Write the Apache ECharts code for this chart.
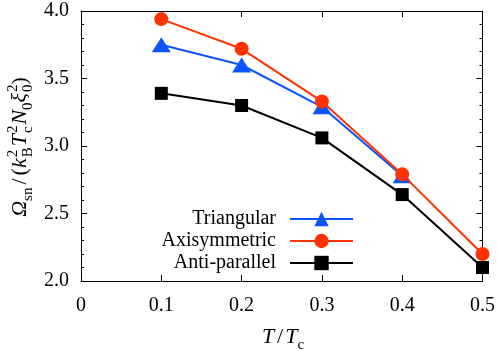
<!DOCTYPE html>
<html>
<head>
<meta charset="utf-8">
<script src="https://cdn.jsdelivr.net/npm/echarts@6/dist/echarts.min.js"></script>
<style>
html,body{margin:0;padding:0;background:#fff;}
#chart{width:498px;height:351px;}
</style>
</head>
<body>
<div id="chart"></div>
<script>
// ---- data ----
const tValues = [0.1, 0.2, 0.3, 0.4, 0.5];
const triangular = [3.75, 3.60, 3.29, 2.78];
const axisymmetric = [3.94, 3.72, 3.33, 2.79, 2.20];
const antiParallel = [3.39, 3.30, 3.06, 2.64, 2.10];
const seriesNames = ['Triangular', 'Axisymmetric', 'Anti-parallel'];
const xTickLabels = ['0', '0.1', '0.2', '0.3', '0.4', '0.5'];
const yTickLabels = ['2.0', '2.5', '3.0', '3.5', '4.0'];

const FONT = 'Liberation Serif';
const chart = echarts.init(document.getElementById('chart'), null, {renderer: 'canvas'});

const mctx = document.createElement('canvas').getContext('2d');
function fontStr(p) { return (p.italic ? 'italic ' : '') + p.size + 'px "' + FONT + '"'; }
function tw(p) { mctx.font = fontStr(p); return mctx.measureText(p.t).width; }
function textEl(p, x) {
  return {
    type: 'text', x: x, y: (p.dy || 0) - 0.34 * p.size,
    style: {text: p.t, font: fontStr(p), fill: '#000', align: 'left', verticalAlign: 'middle'}
  };
}
function mathLayout(pieces) {
  let x = 0; const items = [];
  for (const p of pieces) {
    if (p.gap) { x += p.gap; continue; }
    if (p.stack) {
      let wm = 0;
      for (const q of p.stack) { items.push([q, x]); wm = Math.max(wm, tw(q)); }
      x += wm + (p.after || 0);
    } else {
      items.push([p, x]); x += tw(p) + (p.after || 0);
    }
  }
  const half = x / 2;
  return items.map(([p, px]) => textEl(p, px - half));
}
const S = 22, s = 15, SUB = 5, SUP = -10;
const yTitle = mathLayout([
  {t: 'Ω', italic: true, size: S},
  {t: 'sn', size: s, dy: SUB},
  {gap: 3},
  {t: '/', size: S},
  {gap: 3},
  {t: '(', size: S},
  {t: 'k', italic: true, size: S, after: 1},
  {stack: [{t: '2', size: s, dy: SUP}, {t: 'B', size: s, dy: SUB}], after: 1},
  {t: 'T', italic: true, size: S, after: 1},
  {stack: [{t: '2', size: s, dy: SUP}, {t: 'c', size: s, dy: SUB}], after: 1},
  {t: 'N', italic: true, size: S},
  {t: '0', size: s, dy: SUB},
  {t: 'ξ', italic: true, size: S, after: 1},
  {stack: [{t: '2', size: s, dy: SUP}, {t: '0', size: s, dy: SUB}]},
  {t: ')', size: S}
]);
const xTitle = mathLayout([
  {t: 'T', italic: true, size: S},
  {gap: 3},
  {t: '/', size: S},
  {gap: 2},
  {t: 'T', italic: true, size: S},
  {t: 'c', size: s, dy: SUB}
]);

function pairs(ys) { return ys.map((y, i) => [tValues[i], y]); }
const colors = ['#0a55ff', '#ff3300', '#000000'];
const symbols = ['triangle', 'circle', 'rect'];
const symSizes = [[19, 15], 14, 13];
const datasets = [triangular, axisymmetric, antiParallel];

const axisCommon = {
  axisLine: {show: true, onZero: false, lineStyle: {color: '#000', width: 1}},
  splitLine: {show: false}
};
const richSerif = {a: {fontFamily: FONT, fontSize: 20, color: '#000'}};

const option = {
  animation: false,
  backgroundColor: '#fff',
  textStyle: {fontFamily: FONT},
  grid: {left: 81, right: 13, top: 11, bottom: 70, containLabel: false},
  xAxis: [
    Object.assign({
      type: 'value', position: 'bottom', min: 0, max: 0.5, interval: 0.1,
      axisTick: {show: true, inside: true, length: 6, lineStyle: {color: '#000'}},
      axisLabel: {show: true, margin: 15, color: '#000', fontFamily: FONT, fontSize: 20, rich: richSerif,
        formatter: v => '{a|' + xTickLabels[Math.round(v * 10)] + '}'}
    }, axisCommon),
    Object.assign({
      type: 'value', position: 'top', min: 0, max: 0.5, interval: 0.1,
      axisTick: {show: true, inside: true, length: 6, lineStyle: {color: '#000'}},
      axisLabel: {show: false}
    }, axisCommon)
  ],
  yAxis: [
    Object.assign({
      type: 'value', position: 'left', min: 2, max: 4, interval: 0.5,
      axisTick: {show: true, inside: true, length: 6, lineStyle: {color: '#000'}},
      minorTick: {show: true, splitNumber: 5, length: 3, lineStyle: {color: '#000'}},
      axisLabel: {show: true, margin: 12, color: '#000', fontFamily: FONT, fontSize: 20, rich: richSerif,
        formatter: v => '{a|' + yTickLabels[Math.round((v - 2) * 2)] + '}'}
    }, axisCommon),
    Object.assign({
      type: 'value', position: 'right', min: 2, max: 4, interval: 0.5,
      axisTick: {show: true, inside: true, length: 6, lineStyle: {color: '#000'}},
      minorTick: {show: true, splitNumber: 5, length: 3, lineStyle: {color: '#000'}},
      axisLabel: {show: false}
    }, axisCommon)
  ],
  legend: {
    orient: 'vertical', align: 'right', right: 139, top: 204,
    itemWidth: 63, itemHeight: 18, itemGap: 2,
    formatter: n => '{a|' + n + '}',
    textStyle: {fontFamily: FONT, fontSize: 20, color: '#000', padding: [0, 9, 0, 0], rich: richSerif},
    data: seriesNames
  },
  series: seriesNames.map((name, i) => ({
    name: name, type: 'line', xAxisIndex: 0, yAxisIndex: 0,
    data: pairs(datasets[i]),
    symbol: symbols[i], symbolSize: symSizes[i],
    lineStyle: {color: colors[i], width: 2},
    itemStyle: {color: colors[i], borderWidth: 0},
    showAllSymbol: true, z: 2 + i
  })),
  graphic: [
    {type: 'group', x: 28, y: 147, rotation: Math.PI / 2, children: yTitle},
    {type: 'group', x: 283, y: 345, children: xTitle}
  ]
};
chart.setOption(option);
try {
  const zr = chart.getZr();
  const list = zr.storage.getDisplayList(true);
  let n = 0;
  list.forEach(el => { if (el.style && el.style.text) { n += String(el.style.font || '').length; } });
  zr.refresh();
} catch (e) {}
</script>
</body>
</html>
